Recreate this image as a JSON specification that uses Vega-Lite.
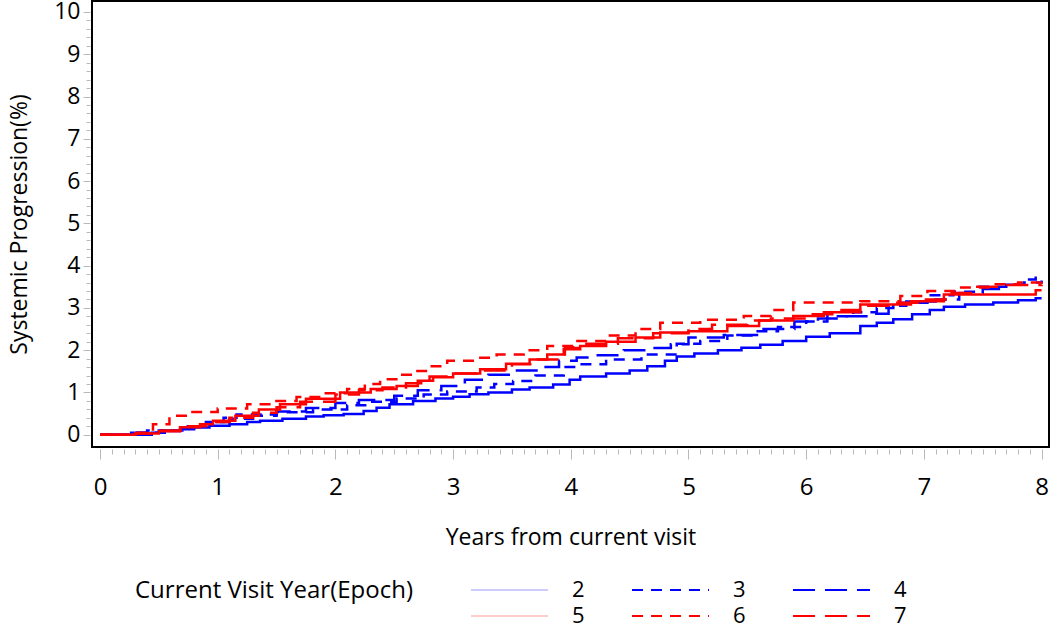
{
  "$schema": "https://vega.github.io/schema/vega-lite/v6.json",
  "autosize": "none",
  "padding": {"left": 92, "top": 1, "right": 1, "bottom": 182},
  "width": 957,
  "height": 446,
  "config": {
    "font": "Open Sans",
    "view": {"stroke": "black", "strokeWidth": 2},
    "axis": {"grid": false, "domain": false, "tickColor": "#b8b8b8", "labelFont": "Open Sans", "titleFont": "Open Sans", "labelColor": "black", "titleColor": "black", "titleFontWeight": "normal"},
    "legend": {"labelFont": "Open Sans", "titleFont": "Open Sans", "titleFontWeight": "normal", "titleColor": "black", "labelColor": "black"}
  },
  "data": {"values": [
    {"t":0,"p":0,"e":"2"},{"t":0.44,"p":0.05,"e":"2"},{"t":0.55,"p":0.09,"e":"2"},{"t":0.68,"p":0.13,"e":"2"},{"t":0.8,"p":0.17,"e":"2"},{"t":0.93,"p":0.21,"e":"2"},{"t":1.1,"p":0.25,"e":"2"},{"t":1.25,"p":0.3,"e":"2"},{"t":1.36,"p":0.33,"e":"2"},{"t":1.55,"p":0.38,"e":"2"},{"t":1.75,"p":0.43,"e":"2"},{"t":1.9,"p":0.46,"e":"2"},{"t":2.07,"p":0.49,"e":"2"},{"t":2.24,"p":0.56,"e":"2"},{"t":2.35,"p":0.64,"e":"2"},{"t":2.46,"p":0.72,"e":"2"},{"t":2.66,"p":0.8,"e":"2"},{"t":2.85,"p":0.86,"e":"2"},{"t":3.0,"p":0.9,"e":"2"},{"t":3.14,"p":0.96,"e":"2"},{"t":3.3,"p":1.0,"e":"2"},{"t":3.5,"p":1.07,"e":"2"},{"t":3.65,"p":1.12,"e":"2"},{"t":3.85,"p":1.19,"e":"2"},{"t":3.99,"p":1.3,"e":"2"},{"t":4.08,"p":1.38,"e":"2"},{"t":4.3,"p":1.45,"e":"2"},{"t":4.5,"p":1.52,"e":"2"},{"t":4.65,"p":1.62,"e":"2"},{"t":4.8,"p":1.75,"e":"2"},{"t":4.9,"p":1.85,"e":"2"},{"t":5.05,"p":1.92,"e":"2"},{"t":5.25,"p":2.0,"e":"2"},{"t":5.45,"p":2.06,"e":"2"},{"t":5.61,"p":2.13,"e":"2"},{"t":5.8,"p":2.22,"e":"2"},{"t":6.0,"p":2.32,"e":"2"},{"t":6.2,"p":2.4,"e":"2"},{"t":6.46,"p":2.57,"e":"2"},{"t":6.6,"p":2.65,"e":"2"},{"t":6.74,"p":2.73,"e":"2"},{"t":6.9,"p":2.85,"e":"2"},{"t":7.05,"p":2.95,"e":"2"},{"t":7.17,"p":3.03,"e":"2"},{"t":7.35,"p":3.08,"e":"2"},{"t":7.59,"p":3.13,"e":"2"},{"t":7.8,"p":3.18,"e":"2"},{"t":7.95,"p":3.23,"e":"2"},{"t":8.0,"p":3.23,"e":"2"},
    {"t":0,"p":0,"e":"3"},{"t":0.25,"p":0.05,"e":"3"},{"t":0.5,"p":0.1,"e":"3"},{"t":0.7,"p":0.2,"e":"3"},{"t":0.9,"p":0.3,"e":"3"},{"t":1.05,"p":0.4,"e":"3"},{"t":1.16,"p":0.48,"e":"3"},{"t":1.5,"p":0.53,"e":"3"},{"t":1.81,"p":0.6,"e":"3"},{"t":2.1,"p":0.7,"e":"3"},{"t":2.3,"p":0.78,"e":"3"},{"t":2.52,"p":0.86,"e":"3"},{"t":2.75,"p":0.95,"e":"3"},{"t":2.95,"p":1.02,"e":"3"},{"t":3.2,"p":1.12,"e":"3"},{"t":3.35,"p":1.2,"e":"3"},{"t":3.51,"p":1.27,"e":"3"},{"t":3.7,"p":1.4,"e":"3"},{"t":3.94,"p":1.6,"e":"3"},{"t":4.08,"p":1.67,"e":"3"},{"t":4.3,"p":1.78,"e":"3"},{"t":4.6,"p":1.9,"e":"3"},{"t":4.9,"p":2.15,"e":"3"},{"t":5.1,"p":2.22,"e":"3"},{"t":5.33,"p":2.35,"e":"3"},{"t":5.55,"p":2.45,"e":"3"},{"t":5.76,"p":2.55,"e":"3"},{"t":6.0,"p":2.68,"e":"3"},{"t":6.18,"p":2.8,"e":"3"},{"t":6.4,"p":2.9,"e":"3"},{"t":6.6,"p":3.0,"e":"3"},{"t":6.74,"p":3.12,"e":"3"},{"t":7.03,"p":3.3,"e":"3"},{"t":7.25,"p":3.38,"e":"3"},{"t":7.46,"p":3.5,"e":"3"},{"t":7.7,"p":3.55,"e":"3"},{"t":7.88,"p":3.67,"e":"3"},{"t":7.95,"p":3.79,"e":"3"},{"t":8.0,"p":3.79,"e":"3"},
    {"t":0,"p":0,"e":"4"},{"t":0.2,"p":0.05,"e":"4"},{"t":0.4,"p":0.1,"e":"4"},{"t":0.7,"p":0.2,"e":"4"},{"t":0.9,"p":0.3,"e":"4"},{"t":1.1,"p":0.38,"e":"4"},{"t":1.3,"p":0.45,"e":"4"},{"t":1.5,"p":0.55,"e":"4"},{"t":1.75,"p":0.63,"e":"4"},{"t":2.0,"p":0.75,"e":"4"},{"t":2.2,"p":0.82,"e":"4"},{"t":2.5,"p":0.92,"e":"4"},{"t":2.7,"p":1.05,"e":"4"},{"t":2.9,"p":1.15,"e":"4"},{"t":3.1,"p":1.3,"e":"4"},{"t":3.3,"p":1.42,"e":"4"},{"t":3.5,"p":1.52,"e":"4"},{"t":3.75,"p":1.6,"e":"4"},{"t":3.9,"p":1.75,"e":"4"},{"t":4.05,"p":1.83,"e":"4"},{"t":4.2,"p":1.88,"e":"4"},{"t":4.45,"p":2.0,"e":"4"},{"t":4.7,"p":2.05,"e":"4"},{"t":4.85,"p":2.14,"e":"4"},{"t":5.0,"p":2.3,"e":"4"},{"t":5.3,"p":2.36,"e":"4"},{"t":5.6,"p":2.5,"e":"4"},{"t":5.9,"p":2.68,"e":"4"},{"t":6.1,"p":2.75,"e":"4"},{"t":6.3,"p":2.8,"e":"4"},{"t":6.55,"p":2.86,"e":"4"},{"t":6.7,"p":3.05,"e":"4"},{"t":6.85,"p":3.15,"e":"4"},{"t":7.1,"p":3.2,"e":"4"},{"t":7.3,"p":3.35,"e":"4"},{"t":7.5,"p":3.45,"e":"4"},{"t":7.7,"p":3.55,"e":"4"},{"t":7.85,"p":3.6,"e":"4"},{"t":8.0,"p":3.65,"e":"4"},
    {"t":0,"p":0,"e":"5"},{"t":0.3,"p":0.03,"e":"5"},{"t":0.5,"p":0.08,"e":"5"},{"t":0.68,"p":0.18,"e":"5"},{"t":0.85,"p":0.25,"e":"5"},{"t":0.96,"p":0.33,"e":"5"},{"t":1.15,"p":0.45,"e":"5"},{"t":1.35,"p":0.6,"e":"5"},{"t":1.53,"p":0.72,"e":"5"},{"t":1.75,"p":0.85,"e":"5"},{"t":2.04,"p":1.0,"e":"5"},{"t":2.3,"p":1.08,"e":"5"},{"t":2.52,"p":1.15,"e":"5"},{"t":2.7,"p":1.28,"e":"5"},{"t":2.83,"p":1.36,"e":"5"},{"t":3.0,"p":1.45,"e":"5"},{"t":3.23,"p":1.55,"e":"5"},{"t":3.45,"p":1.68,"e":"5"},{"t":3.65,"p":1.78,"e":"5"},{"t":3.8,"p":1.9,"e":"5"},{"t":3.94,"p":2.02,"e":"5"},{"t":4.08,"p":2.1,"e":"5"},{"t":4.3,"p":2.2,"e":"5"},{"t":4.55,"p":2.3,"e":"5"},{"t":4.76,"p":2.42,"e":"5"},{"t":5.0,"p":2.45,"e":"5"},{"t":5.33,"p":2.57,"e":"5"},{"t":5.6,"p":2.7,"e":"5"},{"t":5.89,"p":2.81,"e":"5"},{"t":6.15,"p":2.9,"e":"5"},{"t":6.46,"p":3.08,"e":"5"},{"t":6.89,"p":3.16,"e":"5"},{"t":7.17,"p":3.32,"e":"5"},{"t":7.7,"p":3.32,"e":"5"},{"t":7.95,"p":3.42,"e":"5"},{"t":8.0,"p":3.42,"e":"5"},
    {"t":0,"p":0,"e":"6"},{"t":0.3,"p":0.05,"e":"6"},{"t":0.45,"p":0.25,"e":"6"},{"t":0.59,"p":0.45,"e":"6"},{"t":0.74,"p":0.54,"e":"6"},{"t":1.0,"p":0.62,"e":"6"},{"t":1.25,"p":0.72,"e":"6"},{"t":1.45,"p":0.8,"e":"6"},{"t":1.67,"p":0.89,"e":"6"},{"t":1.9,"p":0.98,"e":"6"},{"t":2.1,"p":1.08,"e":"6"},{"t":2.25,"p":1.2,"e":"6"},{"t":2.38,"p":1.31,"e":"6"},{"t":2.55,"p":1.42,"e":"6"},{"t":2.66,"p":1.51,"e":"6"},{"t":2.8,"p":1.62,"e":"6"},{"t":2.95,"p":1.75,"e":"6"},{"t":3.2,"p":1.82,"e":"6"},{"t":3.37,"p":1.9,"e":"6"},{"t":3.6,"p":2.0,"e":"6"},{"t":3.8,"p":2.1,"e":"6"},{"t":4.02,"p":2.22,"e":"6"},{"t":4.3,"p":2.35,"e":"6"},{"t":4.55,"p":2.5,"e":"6"},{"t":4.76,"p":2.65,"e":"6"},{"t":5.1,"p":2.72,"e":"6"},{"t":5.47,"p":2.81,"e":"6"},{"t":5.7,"p":2.95,"e":"6"},{"t":5.89,"p":3.13,"e":"6"},{"t":6.46,"p":3.16,"e":"6"},{"t":6.8,"p":3.28,"e":"6"},{"t":7.03,"p":3.4,"e":"6"},{"t":7.3,"p":3.48,"e":"6"},{"t":7.59,"p":3.56,"e":"6"},{"t":7.8,"p":3.6,"e":"6"},{"t":8.0,"p":3.67,"e":"6"},
    {"t":0,"p":0,"e":"7"},{"t":0.3,"p":0.03,"e":"7"},{"t":0.5,"p":0.1,"e":"7"},{"t":0.7,"p":0.2,"e":"7"},{"t":0.9,"p":0.3,"e":"7"},{"t":1.1,"p":0.4,"e":"7"},{"t":1.3,"p":0.52,"e":"7"},{"t":1.5,"p":0.65,"e":"7"},{"t":1.7,"p":0.78,"e":"7"},{"t":2.0,"p":0.95,"e":"7"},{"t":2.2,"p":1.05,"e":"7"},{"t":2.4,"p":1.12,"e":"7"},{"t":2.6,"p":1.22,"e":"7"},{"t":2.8,"p":1.38,"e":"7"},{"t":3.0,"p":1.45,"e":"7"},{"t":3.2,"p":1.52,"e":"7"},{"t":3.5,"p":1.67,"e":"7"},{"t":3.7,"p":1.78,"e":"7"},{"t":3.95,"p":2.05,"e":"7"},{"t":4.1,"p":2.15,"e":"7"},{"t":4.4,"p":2.28,"e":"7"},{"t":4.7,"p":2.4,"e":"7"},{"t":5.0,"p":2.5,"e":"7"},{"t":5.2,"p":2.6,"e":"7"},{"t":5.5,"p":2.7,"e":"7"},{"t":5.7,"p":2.75,"e":"7"},{"t":6.0,"p":2.85,"e":"7"},{"t":6.3,"p":2.95,"e":"7"},{"t":6.5,"p":3.05,"e":"7"},{"t":6.75,"p":3.12,"e":"7"},{"t":6.95,"p":3.2,"e":"7"},{"t":7.2,"p":3.35,"e":"7"},{"t":7.4,"p":3.5,"e":"7"},{"t":7.7,"p":3.54,"e":"7"},{"t":8.0,"p":3.55,"e":"7"}
  ]},
  "layer": [
    {
      "mark": {"type": "point", "opacity": 0},
      "encoding": {
        "x": {"field": "t", "type": "quantitative", "scale": {"domain": [-0.068, 8.063], "nice": false, "zero": false},
          "axis": {"orient": "bottom", "values": [0.1,0.2,0.3,0.4,0.5,0.6,0.7,0.8,0.9,1.1,1.2,1.3,1.4,1.5,1.6,1.7,1.8,1.9,2.1,2.2,2.3,2.4,2.5,2.6,2.7,2.8,2.9,3.1,3.2,3.3,3.4,3.5,3.6,3.7,3.8,3.9,4.1,4.2,4.3,4.4,4.5,4.6,4.7,4.8,4.9,5.1,5.2,5.3,5.4,5.5,5.6,5.7,5.8,5.9,6.1,6.2,6.3,6.4,6.5,6.6,6.7,6.8,6.9,7.1,7.2,7.3,7.4,7.5,7.6,7.7,7.8,7.9], "labels": false, "title": null, "tickSize": 5, "offset": 2}},
        "y": {"field": "p", "type": "quantitative", "scale": {"domain": [-0.29, 10.26], "nice": false, "zero": false},
          "axis": {"orient": "left", "values": [0.2,0.4,0.6,0.8,1.2,1.4,1.6,1.8,2.2,2.4,2.6,2.8,3.2,3.4,3.6,3.8,4.2,4.4,4.6,4.8,5.2,5.4,5.6,5.8,6.2,6.4,6.6,6.8,7.2,7.4,7.6,7.8,8.2,8.4,8.6,8.8,9.2,9.4,9.6,9.8], "labels": false, "title": null, "tickSize": 4, "offset": 2}}
      }
    },
    {
      "mark": {"type": "line", "interpolate": "step-after", "strokeWidth": 2.5},
      "encoding": {
        "x": {"field": "t", "type": "quantitative",
          "axis": {"orient": "bottom", "values": [0,1,2,3,4,5,6,7,8], "tickSize": 10, "offset": 2, "labelFontSize": 24, "labelPadding": 16, "title": "Years from current visit", "titleFontSize": 23, "titlePadding": 27}},
        "y": {"field": "p", "type": "quantitative",
          "axis": {"orient": "left", "values": [0,1,2,3,4,5,6,7,8,9,10], "tickSize": 7, "offset": 2, "labelFontSize": 23, "labelPadding": 3, "title": "Systemic Progression(%)", "titleFontSize": 23, "titlePadding": 22}},
        "color": {"field": "e", "type": "nominal", "scale": {"domain": ["2","3","4","5","6","7"], "range": ["#0000ff","#0000ff","#0000ff","#ff0000","#ff0000","#ff0000"]},
          "legend": {"title": "Current Visit Year(Epoch)", "orient": "none", "legendX": 43, "legendY": 578, "direction": "horizontal", "columns": 3, "titleOrient": "left", "titleAnchor": "start", "titleBaseline": "top", "titleFontSize": 24, "titleLimit": 500, "labelFontSize": 22, "symbolType": "M-1,0H6.7", "symbolSize": 400, "symbolStrokeWidth": 2, "labelOffset": 80, "columnPadding": 43, "rowPadding": 4, "titlePadding": 57,
            "encode": {"symbols": {"update": {"strokeOpacity": {"signal": "datum.value === '2' || datum.value === '5' ? 0.2 : 1"}}}}}},
        "strokeDash": {"field": "e", "type": "nominal", "scale": {"domain": ["2","3","4","5","6","7"], "range": [[1,0],[11,8],[22,10],[1,0],[11,8],[22,10]]}}
      }
    }
  ],
  "resolve": {"axis": {"x": "independent", "y": "independent"}}
}
